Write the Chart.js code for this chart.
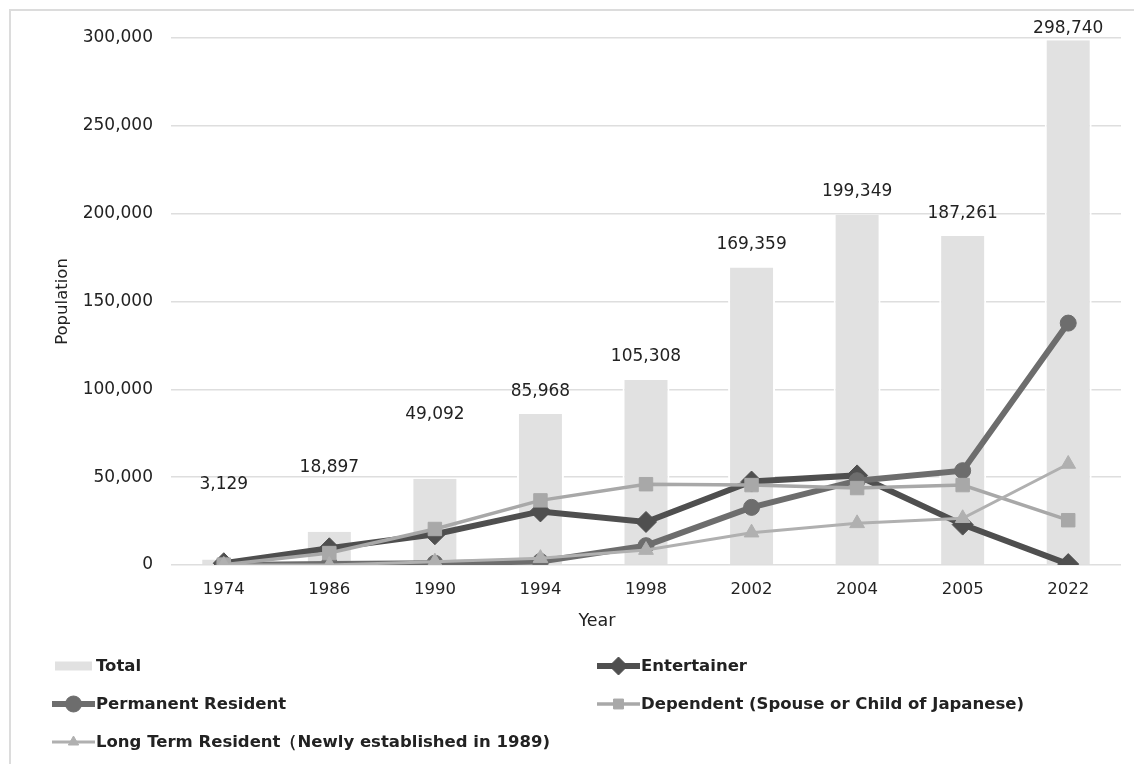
<!DOCTYPE html>
<html>
<head>
<meta charset="utf-8">
<title>Population by residence status</title>
<script src="https://cdn.jsdelivr.net/npm/chart.js@4.4.1/dist/chart.umd.min.js"></script>
<style>
  html, body { margin: 0; padding: 0; background: #ffffff; }
  #wrap { position: relative; width: 1134px; height: 764px; overflow: hidden; }
  #frame {
    position: absolute; left: 9px; top: 9px; width: 1200px; height: 800px;
    border-left: 2px solid #dcdcdc; border-top: 2px solid #dcdcdc;
    box-sizing: border-box; pointer-events: none;
  }
  canvas { position: absolute; left: 0; top: 0; }
</style>
</head>
<body>
<div id="wrap">
  <canvas id="chart" width="1134" height="764"></canvas>
  <div id="frame"></div>
</div>
<script>
// Years on the category axis
const years = ['1974', '1986', '1990', '1994', '1998', '2002', '2004', '2005', '2022'];

// Series values (persons)
const total       = [3129, 18897, 49092, 85968, 105308, 169359, 199349, 187261, 298740];
const entertainer = [1000, 9500, 17500, 30500, 24500, 47500, 51000, 23000, 500];
const permanent   = [0, 600, 1000, 2000, 11000, 32800, 48000, 53700, 137700];
const dependent   = [200, 6800, 20500, 36800, 46000, 45500, 43800, 45500, 25500];
const longTerm    = [0, 0, 1900, 3900, 8500, 18400, 23700, 26600, 57500];

// Y-axis ticks
const yTicks = [0, 50000, 100000, 150000, 200000, 250000, 300000];

const FONT = "'DejaVu Sans', Verdana, sans-serif";
const TEXT = '#222222';

// Value labels over the bars, lifted by a per-bar pixel offset
const barLabels = {
  id: 'barLabels',
  afterDatasetsDraw(chart, args, opts) {
    const meta = chart.getDatasetMeta(0);
    const ctx = chart.ctx;
    ctx.save();
    ctx.font = '17px ' + FONT;
    ctx.fillStyle = TEXT;
    ctx.textAlign = 'center';
    ctx.textBaseline = 'middle';
    meta.data.forEach((bar, i) => {
      const v = chart.data.datasets[0].data[i];
      ctx.fillText(v.toLocaleString('en-US'), bar.x, bar.y - opts.lift[i]);
    });
    ctx.restore();
  }
};

// Category-axis caption, set a little left of the plot centre
const xCaption = {
  id: 'xCaption',
  afterDraw(chart, args, opts) {
    const ctx = chart.ctx;
    ctx.save();
    ctx.font = '17.5px ' + FONT;
    ctx.fillStyle = TEXT;
    ctx.textAlign = 'center';
    ctx.textBaseline = 'middle';
    ctx.fillText(opts.text, opts.x, opts.y);
    ctx.restore();
  }
};

// Two-column legend drawn beneath the axes
const sideLegend = {
  id: 'sideLegend',
  afterDraw(chart, args, opts) {
    const ctx = chart.ctx;
    ctx.save();
    opts.items.forEach(item => {
      const ds = chart.data.datasets[item.dataset];
      if (ds.type === 'bar') {
        ctx.fillStyle = ds.backgroundColor;
        ctx.fillRect(item.x + 3, item.y - 4.5, 37, 9);
      } else {
        ctx.strokeStyle = ds.borderColor;
        ctx.lineWidth = item.lineWidth;
        ctx.beginPath();
        ctx.moveTo(item.x, item.y);
        ctx.lineTo(item.x + 43, item.y);
        ctx.stroke();
        ctx.fillStyle = ds.pointBackgroundColor;
        ctx.strokeStyle = ds.pointBorderColor;
        ctx.lineWidth = 1;
        Chart.helpers.drawPoint(ctx, {
          pointStyle: ds.pointStyle, radius: item.radius, borderWidth: 1, rotation: 0
        }, item.x + 21.5, item.y);
      }
      ctx.font = 'bold 16.5px ' + FONT;
      ctx.fillStyle = TEXT;
      ctx.textAlign = 'left';
      ctx.textBaseline = 'middle';
      ctx.fillText(ds.label, item.x + 44, item.y + 0.5);
    });
    ctx.restore();
  }
};

new Chart(document.getElementById('chart'), {
  data: {
    labels: years,
    datasets: [
      {
        type: 'bar', label: 'Total', data: total, order: 5,
        backgroundColor: '#e1e1e1', borderColor: '#ffffff',
        borderWidth: { left: 2, right: 2, top: 0, bottom: 0 }, borderSkipped: false,
        categoryPercentage: 1, barPercentage: 0.445
      },
      {
        type: 'line', label: 'Entertainer', data: entertainer, order: 4,
        borderColor: '#4f4f4f', borderWidth: 6,
        pointStyle: 'rectRot', pointRadius: 10.5, pointBorderWidth: 1,
        pointBackgroundColor: '#4f4f4f', pointBorderColor: '#4f4f4f'
      },
      {
        type: 'line', label: 'Permanent Resident', data: permanent, order: 3,
        borderColor: '#6d6d6d', borderWidth: 6,
        pointStyle: 'circle', pointRadius: 8, pointBorderWidth: 1,
        pointBackgroundColor: '#6d6d6d', pointBorderColor: '#6d6d6d'
      },
      {
        type: 'line', label: 'Dependent (Spouse or Child of Japanese)', data: dependent, order: 2,
        borderColor: '#a8a8a8', borderWidth: 3.5,
        pointStyle: 'rect', pointRadius: 9.5, pointBorderWidth: 1,
        pointBackgroundColor: '#a8a8a8', pointBorderColor: '#a8a8a8'
      },
      {
        type: 'line', label: 'Long Term Resident（Newly established in 1989)', data: longTerm, order: 1,
        borderColor: '#b0b0b0', borderWidth: 3,
        pointStyle: 'triangle', pointRadius: 8.5, pointBorderWidth: 1,
        pointBackgroundColor: '#b0b0b0', pointBorderColor: '#b0b0b0'
      }
    ]
  },
  options: {
    responsive: false,
    animation: false,
    layout: { padding: { top: 38, right: 13, left: 0, bottom: 0 } },
    scales: {
      x: {
        type: 'category',
        offset: true,
        grid: { display: false, drawTicks: false },
        border: { display: false },
        ticks: { color: TEXT, font: { family: FONT, size: 16.5 }, padding: 15 },
        afterFit(scale) { scale.height = 199; }
      },
      y: {
        min: 0, max: 300000,
        afterBuildTicks(scale) { scale.ticks = yTicks.map(v => ({ value: v })); },
        grid: { color: '#dedede', lineWidth: 1.5, drawTicks: false },
        border: { display: false },
        ticks: {
          color: TEXT, font: { family: FONT, size: 17 }, padding: 18,
          callback: v => v.toLocaleString('en-US')
        },
        title: {
          display: true, text: 'Population', color: TEXT,
          font: { family: FONT, size: 16.5 }, padding: { top: 53, bottom: 0 }
        },
        afterFit(scale) { scale.width = 171; }
      }
    },
    plugins: {
      legend: { display: false },
      tooltip: { enabled: false },
      barLabels: { lift: [75, 64, 64, 22, 23, 23, 23, 22, 12] },
      xCaption: { text: 'Year', x: 597, y: 621 },
      sideLegend: {
        items: [
          { dataset: 0, x: 52, y: 666, lineWidth: 0, radius: 0 },
          { dataset: 1, x: 597, y: 666, lineWidth: 6, radius: 9 },
          { dataset: 2, x: 52, y: 704, lineWidth: 6, radius: 8 },
          { dataset: 3, x: 597, y: 704, lineWidth: 3.5, radius: 7 },
          { dataset: 4, x: 52, y: 742, lineWidth: 3, radius: 6 }
        ]
      }
    }
  },
  plugins: [barLabels, xCaption, sideLegend]
});
</script>
</body>
</html>
